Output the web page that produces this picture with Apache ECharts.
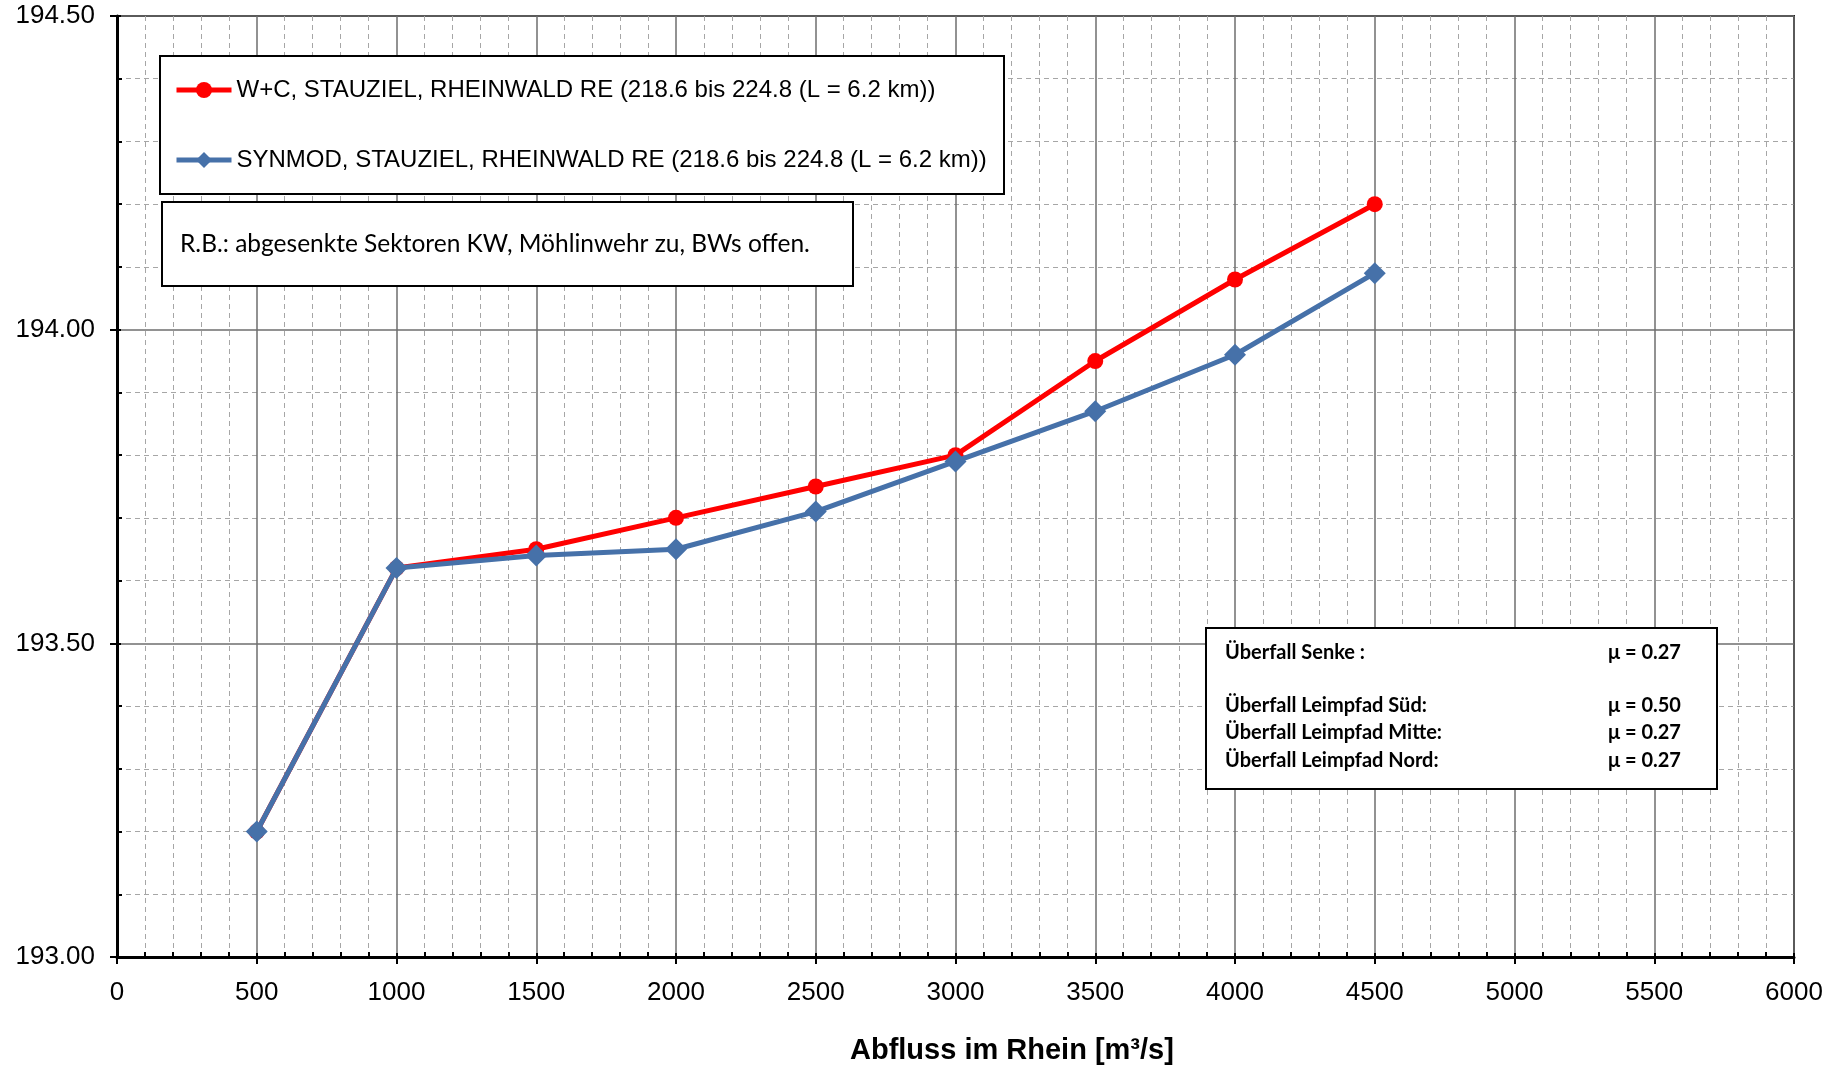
<!DOCTYPE html>
<html>
<head>
<meta charset="utf-8">
<script src="https://cdn.jsdelivr.net/npm/echarts@6/dist/echarts.min.js"></script>
<style>
  html, body { margin: 0; padding: 0; background: #fff; }
  #chart { width: 1845px; height: 1068px; }
</style>
</head>
<body>
<div id="chart"></div>
<script>
// Abfluss [m3/s]
const abfluss = [500, 1000, 1500, 2000, 2500, 3000, 3500, 4000, 4500];
// Wasserspiegel W+C
const wcWerte = [193.20, 193.62, 193.65, 193.70, 193.75, 193.80, 193.95, 194.08, 194.20];
// Wasserspiegel SYNMOD
const synmodWerte = [193.20, 193.62, 193.64, 193.65, 193.71, 193.79, 193.87, 193.96, 194.09];

const nameWC = 'W+C, STAUZIEL, RHEINWALD RE (218.6 bis 224.8 (L = 6.2 km))';
const nameSyn = 'SYNMOD, STAUZIEL, RHEINWALD RE (218.6 bis 224.8 (L = 6.2 km))';
const xName = 'Abfluss im Rhein [m³/s]';
const infoText = 'R.B.: abgesenkte Sektoren KW, Möhlinwehr zu, BWs offen.';
const muLabels = ['Überfall Senke :', '', 'Überfall Leimpfad Süd:', 'Überfall Leimpfad Mitte:', 'Überfall Leimpfad Nord:'];
const muWerte = ['μ = 0.27', '', 'μ = 0.50', 'μ = 0.27', 'μ = 0.27'];

const pairs = arr => abfluss.map((x, i) => [x, arr[i]]);

const chart = echarts.init(document.getElementById('chart'));

const font = 'Liberation Sans, Arial, sans-serif';
const boxFont = 'Lato, Open Sans, sans-serif';

// Textboxen im Diagramm
const muLineY = [655, 0, 708, 735, 763];
const muText = [];
muLabels.forEach((t, i) => {
    if (!t) return;
    muText.push({
        type: 'text', left: 1225, top: muLineY[i] - 12, z: 101,
        style: { text: t, font: 'bold 20px ' + boxFont, fill: '#000' }
    });
    muText.push({
        type: 'text', left: 1608, top: muLineY[i] - 12, z: 101,
        style: { text: muWerte[i], font: 'bold 20px ' + boxFont, fill: '#000' }
    });
});

const option = {
    animation: false,
    backgroundColor: '#fff',
    grid: {
        left: 117, right: 51, top: 16, bottom: 111,
        show: true, borderColor: '#222', borderWidth: 2, backgroundColor: 'transparent'
    },
    legend: {
        left: 174, top: 76, orient: 'vertical', padding: 0,
        itemWidth: 55, itemHeight: 20, itemGap: 42,
        lineStyle: { width: 5 },
        textStyle: { fontFamily: font, fontSize: 24, color: '#000', lineHeight: 28 },
        data: [nameWC, nameSyn],
        z: 102
    },
    xAxis: [{
        type: 'value', min: 0, max: 6000, interval: 500,
        axisLine: { show: true, onZero: false, lineStyle: { color: '#000', width: 3 } },
        axisTick: { show: true, inside: false, length: 7, lineStyle: { color: '#000', width: 2 } },
        axisLabel: { fontFamily: font, fontSize: 26, color: '#000', margin: 23, formatter: v => String(v) },
        splitLine: { show: true, lineStyle: { color: '#6e6e6e', width: 1.5 } },
        minorTick: { show: false, splitNumber: 5 },
        minorSplitLine: { show: true, lineStyle: { color: '#a6a6a6', width: 1, type: [5, 4] } }
    }, {
        type: 'value', min: 0, max: 6000, interval: 500, position: 'bottom',
        axisLine: { show: false, onZero: false },
        axisLabel: { show: false },
        axisTick: { show: true, inside: true, length: 4, lineStyle: { color: '#000', width: 2 } },
        minorTick: { show: true, splitNumber: 5, length: 5, lineStyle: { color: '#000', width: 2 } },
        splitLine: { show: false }
    }],
    yAxis: [{
        type: 'value', min: 193, max: 194.5, interval: 0.5,
        axisLine: { show: true, onZero: false, lineStyle: { color: '#000', width: 3 } },
        axisTick: { show: true, inside: false, length: 7, lineStyle: { color: '#000', width: 2 } },
        axisLabel: {
            fontFamily: font, fontSize: 26, color: '#000', margin: 22,
            formatter: v => v.toFixed(2)
        },
        splitLine: { show: true, lineStyle: { color: '#6e6e6e', width: 1.5 } },
        minorTick: { show: false, splitNumber: 5 },
        minorSplitLine: { show: true, lineStyle: { color: '#a6a6a6', width: 1, type: [5, 4] } }
    }, {
        type: 'value', min: 193, max: 194.5, interval: 0.5, position: 'left',
        axisLine: { show: false, onZero: false },
        axisLabel: { show: false },
        axisTick: { show: true, inside: true, length: 4, lineStyle: { color: '#000', width: 2 } },
        minorTick: { show: true, splitNumber: 5, length: 5, lineStyle: { color: '#000', width: 2 } },
        splitLine: { show: false }
    }],
    series: [{
        name: nameWC, type: 'line', data: pairs(wcWerte),
        symbol: 'circle', symbolSize: 16,
        lineStyle: { color: '#ff0000', width: 5 },
        itemStyle: { color: '#ff0000' },
        z: 3
    }, {
        name: nameSyn, type: 'line', data: pairs(synmodWerte),
        symbol: 'diamond', symbolSize: 22,
        lineStyle: { color: '#4671a9', width: 5 },
        itemStyle: { color: '#4671a9' },
        z: 4
    }],
    graphic: [
        {
            // Achsentitel leicht rechts der Mitte wie im Original
            type: 'text', left: 850, top: 1036, z: 101,
            style: { text: xName, font: 'bold 29px ' + font, fill: '#000' }
        },
        {
            type: 'rect', left: 159, top: 55, z: 100,
            shape: { width: 844, height: 138 },
            style: { fill: '#fff', stroke: '#000', lineWidth: 2 }
        },
        {
            type: 'rect', left: 161, top: 201, z: 100,
            shape: { width: 691, height: 84 },
            style: { fill: '#fff', stroke: '#000', lineWidth: 2 }
        },
        {
            type: 'text', left: 180, top: 232, z: 101,
            style: { text: infoText, font: '24.5px ' + boxFont, fill: '#000' }
        },
        {
            type: 'rect', left: 1205, top: 627, z: 100,
            shape: { width: 511, height: 161 },
            style: { fill: '#fff', stroke: '#000', lineWidth: 2 }
        }
    ].concat(muText)
};

chart.setOption(option);
</script>
</body>
</html>
